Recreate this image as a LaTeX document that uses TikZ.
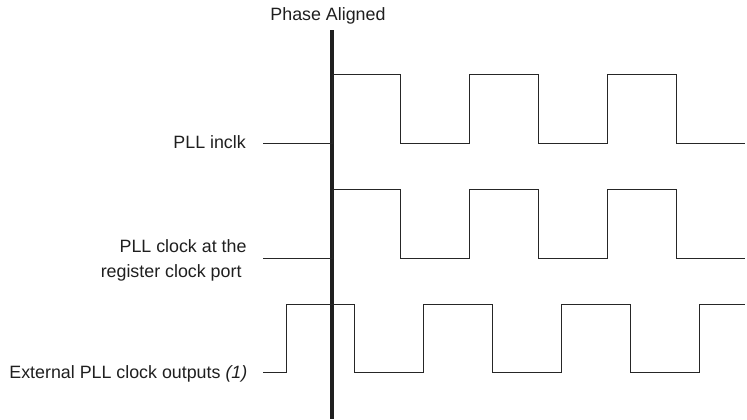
\documentclass[tikz,border=0pt]{standalone}
\usepackage{fontspec}
\setmainfont{Liberation Sans}
\begin{document}
\begin{tikzpicture}[x=1bp,y=-1bp,
  lbl/.style={inner sep=0pt,anchor=base east,font=\fontsize{17.9}{21}\selectfont,text=black!88},
  wave/.style={line width=1bp,draw=black!85,line join=miter},
  phase/.style={line width=3.6bp,draw=black!88}]
\useasboundingbox (0,0) rectangle (747,419);
% phase line
\coordinate (ptop) at (332,30);
\coordinate (pbot) at (332,419);
\draw[phase] (ptop) -- (pbot);
\node[lbl,anchor=base] (ph) at (328,20) {Phase Aligned};
% labels
\node[lbl] (l1) at (246,148.5) {PLL inclk};
\node[lbl] (l2a) at (246.7,252.5) {PLL clock at the};
\node[lbl] (l2b) at (241.7,277.5) {register clock port};
\node[lbl] (l3) at (247.5,378.5) {External PLL clock outputs \textit{(1)}};
% waves
\coordinate (w1) at (263,143.3);
\coordinate (w2) at (263,258.7);
\coordinate (w3) at (263,372.7);
\draw[wave] (w1) -- (332,143.3) -- (332,74.7) -- (400.5,74.7) -- (400.5,143.3) -- (469,143.3) -- (469,74.7)
  -- (538,74.7) -- (538,143.3) -- (607,143.3) -- (607,74.7) -- (676,74.7) -- (676,143.3) -- (745,143.3);
\draw[wave] (w2) -- (332,258.7) -- (332,189.3) -- (400.5,189.3) -- (400.5,258.7) -- (469,258.7) -- (469,189.3)
  -- (538,189.3) -- (538,258.7) -- (607,258.7) -- (607,189.3) -- (676,189.3) -- (676,258.7) -- (745,258.7);
\draw[wave] (w3) -- (286,372.7) -- (286,304) -- (354.3,304) -- (354.3,372.7) -- (423.3,372.7) -- (423.3,304)
  -- (492.3,304) -- (492.3,372.7) -- (561,372.7) -- (561,304) -- (630,304) -- (630,372.7) -- (699,372.7)
  -- (699,304) -- (745,304);
\end{tikzpicture}
\end{document}
